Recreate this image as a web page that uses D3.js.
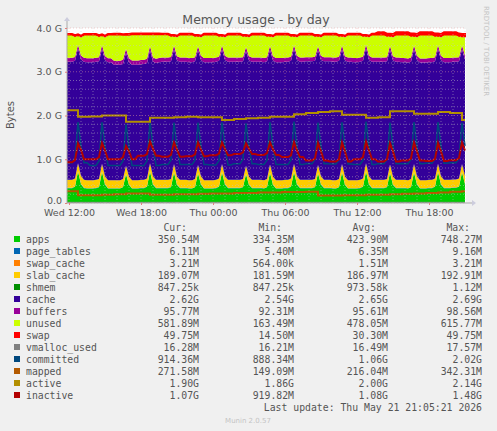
<!DOCTYPE html>
<html>
<head>
<meta charset="utf-8">
<script src="https://cdn.jsdelivr.net/npm/d3@7/dist/d3.min.js"></script>
<style>
  body { margin: 0; background: #f0f0f0; }
  svg { display: block; }
  text { fill: #555; }
</style>
</head>
<body>
<svg id="chart" width="497" height="431"></svg>
<script>
// samples every 15 min from Wed 11:45, values in G
const startTime = new Date(2026, 4, 20, 11, 45);

const apps = [
  0.34,0.34,0.34,0.37,0.72,0.43,0.34,0.33,
  0.33,0.33,0.34,0.36,0.71,0.42,0.33,0.33,
  0.33,0.33,0.33,0.36,0.66,0.41,0.33,0.33,
  0.33,0.34,0.34,0.37,0.72,0.42,0.34,0.34,
  0.34,0.34,0.34,0.36,0.70,0.41,0.34,0.34,
  0.34,0.33,0.33,0.36,0.68,0.42,0.33,0.33,
  0.33,0.33,0.34,0.37,0.70,0.42,0.34,0.34,
  0.34,0.34,0.34,0.36,0.66,0.41,0.34,0.34,
  0.34,0.34,0.33,0.36,0.69,0.41,0.33,0.33,
  0.33,0.34,0.34,0.37,0.71,0.42,0.34,0.34,
  0.34,0.34,0.34,0.36,0.68,0.42,0.34,0.34,
  0.34,0.33,0.33,0.36,0.70,0.41,0.33,0.33,
  0.33,0.33,0.34,0.37,0.72,0.42,0.34,0.34,
  0.34,0.34,0.34,0.36,0.69,0.41,0.34,0.34,
  0.34,0.34,0.33,0.36,0.70,0.42,0.33,0.33,
  0.33,0.34,0.34,0.37,0.71,0.42,0.34,0.34,
  0.34,0.35,0.35,0.37,0.70,0.43
];
const cache = [
  2.70,2.70,2.70,2.69,2.62,2.66,2.70,2.70,
  2.70,2.70,2.70,2.69,2.62,2.66,2.70,2.70,
  2.64,2.64,2.64,2.63,2.58,2.61,2.64,2.64,
  2.64,2.64,2.65,2.64,2.58,2.62,2.67,2.69,
  2.70,2.70,2.70,2.69,2.62,2.66,2.70,2.70,
  2.70,2.70,2.70,2.69,2.62,2.66,2.70,2.70,
  2.70,2.70,2.70,2.69,2.62,2.66,2.70,2.70,
  2.70,2.70,2.70,2.69,2.62,2.66,2.70,2.70,
  2.70,2.70,2.70,2.69,2.62,2.66,2.70,2.70,
  2.70,2.70,2.70,2.69,2.62,2.66,2.70,2.70,
  2.71,2.71,2.71,2.70,2.62,2.66,2.71,2.71,
  2.71,2.71,2.71,2.70,2.62,2.66,2.71,2.71,
  2.70,2.70,2.70,2.69,2.62,2.66,2.70,2.70,
  2.70,2.70,2.70,2.69,2.62,2.66,2.70,2.70,
  2.69,2.69,2.69,2.68,2.62,2.66,2.69,2.69,
  2.69,2.69,2.69,2.68,2.62,2.66,2.69,2.69,
  2.69,2.69,2.69,2.68,2.62,2.66
];
const unused = [
  0.53,0.53,0.53,0.48,0.22,0.44,0.53,0.54,
  0.54,0.54,0.53,0.49,0.23,0.45,0.54,0.54,
  0.60,0.60,0.60,0.57,0.32,0.54,0.60,0.60,
  0.60,0.59,0.58,0.56,0.27,0.53,0.56,0.54,
  0.53,0.53,0.53,0.49,0.22,0.46,0.53,0.53,
  0.53,0.54,0.54,0.49,0.24,0.45,0.54,0.54,
  0.54,0.54,0.53,0.48,0.22,0.45,0.53,0.53,
  0.53,0.53,0.53,0.49,0.26,0.46,0.53,0.53,
  0.53,0.53,0.54,0.49,0.23,0.46,0.54,0.54,
  0.54,0.53,0.53,0.48,0.21,0.45,0.53,0.53,
  0.52,0.52,0.52,0.48,0.24,0.45,0.52,0.52,
  0.52,0.53,0.53,0.48,0.22,0.46,0.53,0.53,
  0.54,0.54,0.53,0.48,0.20,0.45,0.53,0.53,
  0.53,0.53,0.53,0.49,0.23,0.46,0.53,0.53,
  0.54,0.54,0.55,0.50,0.22,0.45,0.55,0.55,
  0.55,0.54,0.54,0.49,0.21,0.45,0.54,0.54,
  0.54,0.53,0.53,0.49,0.21,0.44
];
const committed = [
  0.92,0.92,0.92,1.02,1.85,1.30,0.92,0.92,
  0.86,0.86,0.86,0.96,1.85,1.30,0.86,0.86,
  0.86,0.86,0.86,0.96,1.80,1.28,0.86,0.86,
  0.86,0.86,0.86,0.96,1.86,1.30,0.86,0.86,
  0.88,0.88,0.88,0.98,1.84,1.30,0.88,0.88,
  0.88,0.88,0.88,0.98,1.84,1.30,0.88,0.88,
  0.87,0.87,0.87,0.97,1.85,1.30,0.87,0.87,
  0.90,0.90,0.90,1.00,1.82,1.30,0.90,0.90,
  0.88,0.88,0.88,0.98,1.85,1.30,0.88,0.88,
  0.88,0.88,0.88,0.98,1.86,1.30,0.88,0.88,
  0.90,0.90,0.90,1.00,1.84,1.30,0.90,0.90,
  0.89,0.89,0.89,0.99,1.85,1.30,0.89,0.89,
  0.88,0.88,0.88,0.98,1.86,1.30,0.88,0.88,
  0.90,0.90,0.90,1.00,1.84,1.30,0.90,0.90,
  0.90,0.90,0.90,1.00,1.85,1.30,0.90,0.90,
  0.91,0.91,0.91,1.01,1.85,1.30,0.91,0.91,
  0.92,0.92,0.92,1.02,1.84,1.30
];
const inactive = [
  0.93,0.93,0.93,0.98,1.36,1.22,1.00,1.00,
  1.00,1.00,1.00,1.05,1.37,1.20,1.00,1.00,
  1.00,1.00,1.00,1.05,1.30,1.18,1.00,1.00,
  1.08,1.08,1.08,1.12,1.40,1.24,1.08,1.08,
  1.06,1.06,1.06,1.10,1.38,1.22,1.06,1.06,
  1.07,1.07,1.07,1.11,1.38,1.22,1.07,1.07,
  1.09,1.09,1.09,1.13,1.38,1.23,1.09,1.09,
  1.12,1.12,1.12,1.16,1.36,1.24,1.12,1.12,
  1.10,1.10,1.10,1.14,1.38,1.23,1.10,1.10,
  1.05,1.05,1.05,1.09,1.39,1.20,1.05,1.05,
  0.97,0.97,0.97,1.02,1.37,1.18,0.97,0.97,
  0.95,0.95,0.95,1.00,1.38,1.18,0.95,0.95,
  1.00,1.00,1.00,1.05,1.40,1.20,1.00,1.00,
  0.95,0.95,0.95,1.00,1.36,1.18,0.95,0.95,
  0.97,0.97,0.97,1.02,1.38,1.18,0.97,0.97,
  0.96,0.96,0.96,1.01,1.37,1.18,0.96,0.96,
  0.98,0.98,0.98,1.03,1.38,1.20
];

// hourly samples from Wed 11:45
const active = [2.12,1.97,1.98,2.00,2.00,1.86,1.86,1.95,1.95,1.96,1.97,1.96,1.96,1.90,1.92,1.94,1.95,
  1.97,1.97,2.03,2.06,2.08,2.10,2.02,2.02,1.95,1.96,2.10,2.10,2.04,2.04,2.08,2.06,1.90];
const mapped = [0.27,0.18,0.18,0.19,0.20,0.22,0.22,0.19,0.19,0.20,0.20,0.21,0.22,0.22,0.23,0.23,0.24,
  0.24,0.25,0.25,0.26,0.17,0.17,0.18,0.18,0.19,0.19,0.20,0.21,0.22,0.23,0.24,0.26,0.27];
const slabCache = [0.18,0.18,0.18,0.18,0.18,0.18,0.18,0.18,0.18,0.18,0.18,0.18,0.18,0.18,0.18,0.18,0.18,
  0.18,0.18,0.18,0.18,0.18,0.18,0.18,0.18,0.18,0.18,0.18,0.18,0.18,0.18,0.18,0.18,0.18];
const buffers = [0.09,0.09,0.09,0.09,0.095,0.098,0.098,0.098,0.096,0.094,0.094,0.094,0.094,0.094,0.094,0.094,0.094,
  0.094,0.094,0.094,0.094,0.094,0.094,0.094,0.094,0.094,0.094,0.094,0.094,0.094,0.094,0.094,0.094,0.094];
const swap = [0.015,0.015,0.015,0.015,0.015,0.015,0.015,0.015,0.015,0.015,0.015,0.015,0.015,0.015,0.015,0.015,0.015,
  0.015,0.015,0.015,0.015,0.015,0.015,0.015,0.015,0.015,0.048,0.048,0.049,0.049,0.049,0.05,0.05,0.05];
const pageTables = [0.006];
const swapCache = [0.002];
const shmem = [0.001];
const vmalloc = [0.016];

const seriesNames = ["apps","page_tables","swap_cache","slab_cache","shmem","cache","buffers","unused","swap",
  "vmalloc_used","committed","mapped","active","inactive"];
const seriesColors = ["#00cc00","#0066b3","#ff8000","#ffcc00","#008f00","#330099","#990099","#ccff00","#ff0000",
  "#808080","#00487d","#b35a00","#b38f00","#b30000"];
const cur = ["350.54M","6.11M","3.21M","189.07M","847.25k","2.62G","95.77M","581.89M","49.75M","16.28M","914.36M","271.58M","1.90G","1.07G"];
const mins = ["334.35M","5.40M","564.00k","181.59M","847.25k","2.54G","92.31M","163.49M","14.50M","16.21M","888.34M","149.09M","1.86G","919.82M"];
const avgs = ["423.90M","6.35M","1.51M","186.97M","973.58k","2.65G","95.61M","478.05M","30.30M","16.49M","1.06G","216.04M","2.00G","1.08G"];
const maxs = ["748.27M","9.16M","3.21M","192.91M","1.12M","2.69G","98.56M","615.77M","49.75M","17.57M","2.02G","342.31M","2.14G","1.48G"];
const yTicks = [0, 1, 2, 3, 4];
const yTickLabels = ["0.0", "1.0 G", "2.0 G", "3.0 G", "4.0 G"];

const svg = d3.select("#chart");
const pL = 67, pR = 466, pT = 28, pB = 203;
const times = apps.map((d, i) => new Date(+startTime + i * 15 * 60000));
const hourly = (arr, i) => arr[Math.min(arr.length - 1, Math.floor(i / 4))];

const x = d3.scaleTime()
  .domain([new Date(2026, 4, 20, 11, 50), new Date(2026, 4, 21, 21, 5)])
  .range([pL, pR]);
const y = d3.scaleLinear().domain([0, 4]).range([pB, pT]);

const rows = times.map((t, i) => ({
  t,
  apps: apps[i], page_tables: pageTables[0], swap_cache: swapCache[0], slab_cache: hourly(slabCache, i),
  shmem: shmem[0], cache: cache[i], buffers: hourly(buffers, i), unused: unused[i], swap: hourly(swap, i)
}));
const stackKeys = seriesNames.slice(0, 9);
const stacked = d3.stack().keys(stackKeys)(rows);

svg.append("rect").attr("x", pL).attr("y", pT).attr("width", pR - pL).attr("height", pB - pT).attr("fill", "#fff");

svg.append("clipPath").attr("id", "clip").append("rect")
  .attr("x", pL).attr("y", pT - 10).attr("width", pR - pL).attr("height", pB - pT + 10);
const plot = svg.append("g").attr("clip-path", "url(#clip)");

const area = d3.area().x(d => x(d.data.t)).y0(d => y(d[0])).y1(d => y(d[1]));
plot.selectAll("path.layer").data(stacked).join("path")
  .attr("class", "layer")
  .attr("fill", (d, i) => seriesColors[i])
  .attr("stroke", (d, i) => d.key === "swap" ? seriesColors[i] : "none")
  .attr("stroke-width", 2)
  .attr("d", area);

// grid over the areas
const grid = svg.append("g");
d3.range(0, 4.01, 0.2).forEach(v => {
  const major = Math.abs(v - Math.round(v)) < 1e-6;
  grid.append("line").attr("x1", pL).attr("x2", pR).attr("y1", y(v)).attr("y2", y(v))
    .attr("stroke", major ? "#e8a0a0" : "#c8c8c8").attr("stroke-width", 0.6)
    .attr("stroke-dasharray", "1,2").attr("opacity", 0.8);
});
const hours = d3.timeHour.every(1).range(x.domain()[0], x.domain()[1]);
hours.forEach(h => {
  const major = h.getHours() % 6 === 0;
  grid.append("line").attr("x1", x(h)).attr("x2", x(h)).attr("y1", pT).attr("y2", pB)
    .attr("stroke", major ? "#e8a0a0" : "#c8c8c8").attr("stroke-width", 0.6)
    .attr("stroke-dasharray", "1,2").attr("opacity", 0.8);
});

const lineSeries = [
  { vals: times.map(() => vmalloc[0]), color: seriesColors[9], w: 1, step: true },
  { vals: committed, color: seriesColors[10], w: 1.5, step: false },
  { vals: times.map((t, i) => hourly(mapped, i)), color: seriesColors[11], w: 2, step: true },
  { vals: times.map((t, i) => hourly(active, i)), color: seriesColors[12], w: 2, step: true },
  { vals: inactive, color: seriesColors[13], w: 2, step: false }
];
lineSeries.forEach(s => {
  plot.append("path")
    .attr("fill", "none").attr("stroke", s.color).attr("stroke-width", s.w)
    .attr("d", d3.line().x((d, i) => x(times[i])).y(d => y(d))
      .curve(s.step ? d3.curveStepAfter : d3.curveLinear)(s.vals));
});

// axes
svg.append("line").attr("x1", pL).attr("x2", pR + 6).attr("y1", pB).attr("y2", pB).attr("stroke", "#aaa");
svg.append("line").attr("x1", pL).attr("x2", pL).attr("y1", pB).attr("y2", pT - 8).attr("stroke", "#aaa");
svg.append("path").attr("d", `M${pR + 6},${pB - 3}L${pR + 10},${pB}L${pR + 6},${pB + 3}Z`).attr("fill", "#ccd");
svg.append("path").attr("d", `M${pL - 3},${pT - 7}L${pL},${pT - 11}L${pL + 3},${pT - 7}Z`).attr("fill", "#ccd");

const yAxis = d3.axisLeft(y).tickValues(yTicks).tickFormat((d, i) => yTickLabels[i]).tickSize(2);
svg.append("g").attr("transform", `translate(${pL},0)`).call(yAxis)
  .call(g => g.select(".domain").remove())
  .call(g => g.selectAll("line").attr("stroke", "#e08080"))
  .call(g => g.selectAll("text").attr("font-family", "DejaVu Sans").attr("font-size", 9.5).attr("fill", "#555")
    .attr("dy", d => d === 0 ? "0.1em" : "0.32em"));

const xTicks = [0, 6, 12, 18, 24, 30].map(h => new Date(2026, 4, 20, 12 + h));
const xAxis = d3.axisBottom(x).tickValues(xTicks).tickFormat(d3.timeFormat("%a %H:%M")).tickSize(2);
svg.append("g").attr("transform", `translate(0,${pB})`).call(xAxis)
  .call(g => g.select(".domain").remove())
  .call(g => g.selectAll("line").attr("stroke", "#e08080"))
  .call(g => g.selectAll("text").attr("font-family", "DejaVu Sans").attr("font-size", 9.5).attr("fill", "#555").attr("dy", "0.8em"));

svg.append("text").attr("x", 256).attr("y", 24).attr("text-anchor", "middle")
  .attr("font-family", "DejaVu Sans").attr("font-size", 12.5).text("Memory usage - by day");
svg.append("text").attr("transform", "translate(14,115) rotate(-90)").attr("text-anchor", "middle")
  .attr("font-family", "DejaVu Sans").attr("font-size", 10).text("Bytes");
svg.append("text").attr("transform", "translate(484,6) rotate(90)")
  .attr("font-family", "DejaVu Sans").attr("font-size", 7).style("fill", "#c4c4c4").text("RRDTOOL / TOBI OETIKER");

// legend
const mono = "DejaVu Sans Mono";
const colX = [199, 294, 388, 482];
["Cur:", "Min:", "Avg:", "Max:"].forEach((h, j) => {
  svg.append("text").attr("x", colX[j] - 12).attr("y", 231).attr("text-anchor", "end")
    .attr("font-family", mono).attr("font-size", 9.8).text(h);
});
const leg = svg.selectAll("g.leg").data(seriesNames).join("g").attr("class", "leg")
  .attr("transform", (d, i) => `translate(0,${243 + i * 12})`);
leg.append("rect").attr("x", 14).attr("y", -7).attr("width", 6).attr("height", 6)
  .attr("fill", (d, i) => seriesColors[i]);
leg.append("text").attr("x", 26).attr("font-family", mono).attr("font-size", 9.8).text(d => d);
[cur, mins, avgs, maxs].forEach((col, j) => {
  leg.append("text").attr("x", colX[j]).attr("text-anchor", "end")
    .attr("font-family", mono).attr("font-size", 9.8).text((d, i) => col[i]);
});
svg.append("text").attr("x", 482).attr("y", 411).attr("text-anchor", "end")
  .attr("font-family", mono).attr("font-size", 9.8).text("Last update: Thu May 21 21:05:21 2026");
svg.append("text").attr("x", 248).attr("y", 423).attr("text-anchor", "middle")
  .attr("font-family", "DejaVu Sans").attr("font-size", 7).style("fill", "#c4c4c4").text("Munin 2.0.57");
</script>
</body>
</html>
